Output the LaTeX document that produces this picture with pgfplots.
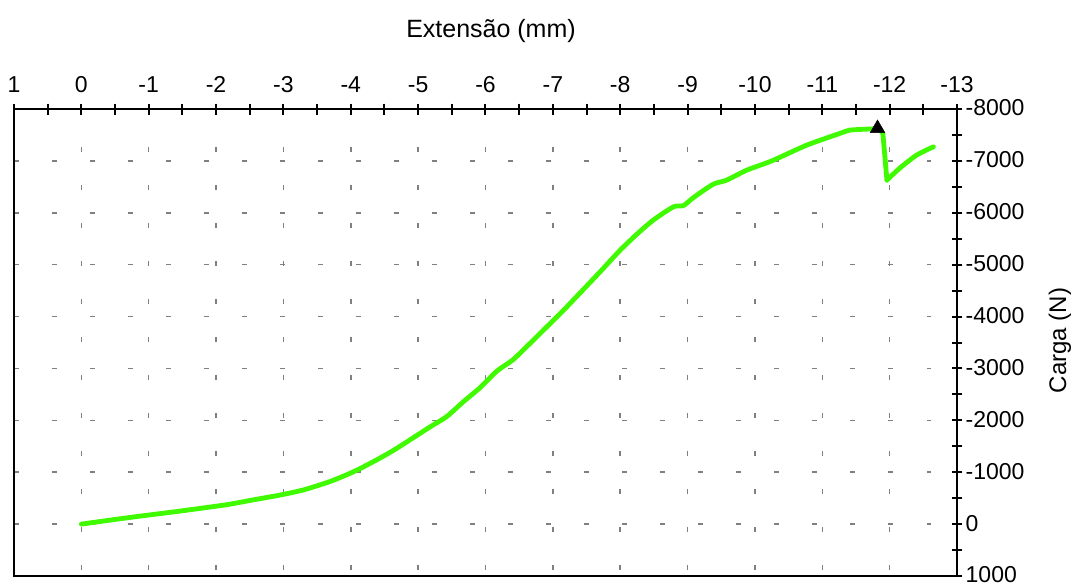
\documentclass[border=0pt]{standalone}
\usepackage{pgfplots}
\pgfplotsset{compat=1.18}
\usepackage{fontspec}
\setmainfont{Liberation Sans}
\definecolor{curve}{RGB}{64,250,0}
\pgfplotstableread{
x y
0 0
-0.25 -45
-0.5 -90
-0.72 -128
-1.0 -175
-1.46 -250
-2.0 -345
-2.21 -385
-2.5 -455
-2.95 -560
-3.3 -660
-3.69 -820
-4.0 -985
-4.19 -1105
-4.43 -1270
-4.68 -1458
-5.18 -1876
-5.42 -2068
-5.67 -2357
-5.92 -2630
-6.17 -2950
-6.41 -3170
-6.66 -3482
-6.91 -3802
-7.16 -4124
-7.40 -4450
-7.70 -4860
-8.00 -5280
-8.25 -5590
-8.49 -5858
-8.79 -6115
-8.94 -6140
-9.09 -6296
-9.38 -6550
-9.58 -6629
-9.88 -6822
-10.25 -7000
-10.77 -7304
-11.26 -7529
-11.41 -7593
-11.71 -7615
-11.86 -7620
}\risedata
\pgfplotstableread{
x y
-11.86 -7620
-11.90 -7520
-11.96 -6629
}\dropdata
\pgfplotstableread{
x y
-11.96 -6629
-12.15 -6860
-12.40 -7111
-12.65 -7272
}\recoverdata
\begin{document}
\begin{tikzpicture}
\begin{axis}[
  name=ax, at={(0,0)}, anchor=south west,
  scale only axis, width=943pt, height=467pt,
  xmin=-13, xmax=1, ymin=-8000, ymax=1000,
  x dir=reverse, y dir=reverse,
  axis line style={line width=2.5pt, black},
  xtick={-13,-12,...,1},
  xticklabels={-13,-12,-11,-10,-9,-8,-7,-6,-5,-4,-3,-2,-1,0,1},
  minor xtick={-12.5,-11.5,...,0.5},
  ytick={-8000,-7000,...,1000},
  yticklabels={-8000,-7000,-6000,-5000,-4000,-3000,-2000,-1000,0,1000},
  minor ytick={-7500,-6500,...,500},
  xtick pos=right, xticklabel pos=right,
  ytick pos=right, yticklabel pos=right,
  tick align=center,
  major tick length=11pt, minor tick length=11pt,
  every tick/.style={line width=2pt, black},
  tick label style={font=\fontsize{23}{27}\selectfont, black},
  xticklabel style={anchor=base, yshift=11pt, inner sep=0pt},
  yticklabel style={anchor=west, xshift=3pt, yshift=1pt, inner sep=0pt},
  grid=major,
  major x grid style={line width=1.5pt, color=gray, dash pattern=on 4.5pt off 33.5pt},
  major y grid style={line width=1.5pt, color=gray, dash pattern=on 4.5pt off 33.5pt, dash phase=12pt},
  xlabel={Extensão (mm)},
  xlabel style={at={(axis description cs:0.5,1)}, anchor=base, yshift=72pt, xshift=5.5pt, font=\fontsize{25}{30}\selectfont},
  ylabel={Carga (N)},
  ylabel style={at={(axis description cs:1,0.5)}, anchor=center, yshift=-103pt, xshift=2pt, font=\fontsize{24}{29}\selectfont},
  clip=false,
]
\addplot[color=curve, line width=4.8pt, line join=round, line cap=round, smooth, tension=0.4] table[x=x, y=y] {\risedata};
\addplot[color=curve, line width=4.8pt, line join=round, line cap=round] table[x=x, y=y] {\dropdata};
\addplot[color=curve, line width=4.8pt, line join=round, line cap=round, smooth, tension=0.4] table[x=x, y=y] {\recoverdata};
\addplot[only marks, mark=triangle*, mark size=8.5pt, black] coordinates {(-11.82,-7626)};
\end{axis}
\pgfresetboundingbox
\path[use as bounding box] (-14pt,-9pt) rectangle (1064pt,576pt);
\end{tikzpicture}
\end{document}
